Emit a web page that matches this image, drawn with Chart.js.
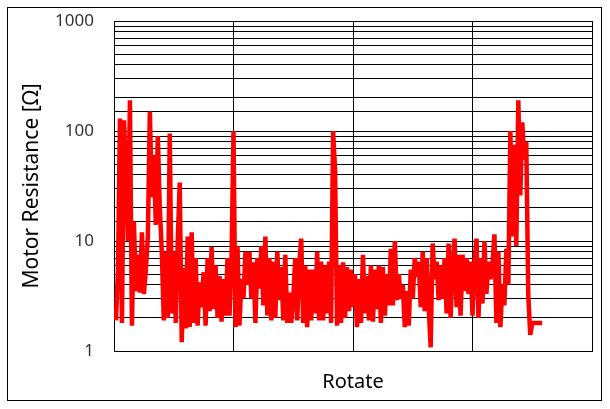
<!DOCTYPE html>
<html><head><meta charset="utf-8">
<script src="https://cdn.jsdelivr.net/npm/chart.js@4.4.1/dist/chart.umd.min.js"></script>
<style>html,body{margin:0;padding:0;background:#fff}#wrap{width:610px;height:409px;position:relative}</style>
</head><body><div id="wrap"><canvas id="c" width="610" height="409"></canvas></div>
<script>
// Motor resistance samples (Ω), one per rotate step starting at step 1
const resistance = [
  1.9, 5.5, 130, 1.8, 125, 45, 10, 190, 1.7, 15,
  3.5, 7.5, 3.4, 12, 3.3, 5.5, 11, 150, 25, 60,
  14, 90, 20, 8, 1.9, 8, 2, 95, 2.2, 8,
  1.8, 10, 34, 1.2, 5.7, 1.6, 11, 1.65, 12, 1.8,
  7, 1.7, 4.2, 2.5, 5.2, 1.7, 7, 2.3, 8.8, 2.4,
  6, 2, 4.8, 1.85, 4.5, 2.1, 7, 2.1, 6.5, 100,
  1.65, 9, 1.7, 4.5, 3, 8, 4, 8, 3, 6.4,
  1.8, 7, 3.7, 9, 2.6, 11, 2.1, 7, 1.9, 6.5,
  2, 8, 2.9, 5.8, 1.9, 7.5, 1.8, 3.4, 1.8, 3,
  7, 1.9, 6, 10.5, 1.8, 6, 1.65, 5.5, 1.9, 5.5,
  2.2, 8, 1.9, 6.5, 1.9, 6, 2.2, 6.5, 1.8, 100,
  44, 1.7, 6, 1.8, 6.4, 2, 5.8, 2.3, 5.5, 2.5,
  5, 1.65, 4.5, 1.8, 7.5, 2.2, 4.8, 1.9, 6, 1.85,
  5.5, 2.4, 6, 1.8, 5.8, 2.1, 5, 2.6, 8.5, 2.6,
  10, 2.9, 5, 3, 4, 1.65, 3.5, 1.7, 5.5, 3,
  7, 4.7, 6.5, 2.5, 8, 2.3, 7, 2.5, 1.08, 9.5,
  4.5, 6.5, 2.9, 6, 3, 7, 2.2, 9.5, 2, 6,
  10.5, 2.5, 7.5, 2.1, 7.5, 3.5, 7, 3.3, 6.5, 2.1,
  6.5, 10.5, 2, 7, 2.7, 10, 3.3, 6.5, 4.5, 6,
  11.5, 1.8, 8, 1.65, 4, 2.6, 8.5, 4, 100, 11,
  75, 9, 190, 26, 120, 55, 80, 3.2, 1.4, 1.8,
  1.8, 1.8, 1.8, 1.8, 1.8
];
const xRange = [0, 240];
const xGridStep = 60;
const yTickLabels = [1, 10, 100, 1000];
const xTitle = 'Rotate';
const yTitle = 'Motor Resistance [Ω]';

const points = resistance.map((v, i) => ({ x: i + 1, y: v }));
const FONT = '"Noto Sans", "Open Sans", sans-serif';

const frame = {
  id: 'frame',
  beforeDraw(chart) {
    const c = chart.ctx;
    c.save(); c.fillStyle = '#fff'; c.fillRect(0, 0, chart.width, chart.height); c.restore();
  },
  afterDraw(chart) {
    const c = chart.ctx;
    c.save(); c.strokeStyle = '#000'; c.lineWidth = 1;
    c.strokeRect(7.5, 7.5, 594, 393);
    c.restore();
  }
};

new Chart(document.getElementById('c'), {
  type: 'line',
  data: {
    datasets: [{
      data: points,
      borderColor: '#ff0000',
      borderWidth: 4.5,
      borderJoinStyle: 'bevel',
      pointRadius: 0,
      tension: 0,
      fill: false
    }]
  },
  options: {
    responsive: false,
    devicePixelRatio: 1,
    animation: false,
    layout: { padding: { left: 0, right: 18, top: 21, bottom: 0 } },
    plugins: { legend: { display: false }, tooltip: { enabled: false } },
    scales: {
      x: {
        type: 'linear',
        min: xRange[0], max: xRange[1],
        ticks: { display: false, stepSize: xGridStep },
        grid: { color: '#000', lineWidth: 1, drawTicks: false },
        border: { color: '#000', width: 1 },
        title: { display: true, text: xTitle, color: '#000',
                 font: { family: FONT, size: 20 }, padding: { top: 0, bottom: 15 } },
        afterFit(s) { s.height = 58; s.paddingLeft = 0; s.paddingRight = 0; }
      },
      y: {
        type: 'logarithmic',
        min: 1, max: 1000,
        ticks: {
          autoSkip: false, padding: 20, color: '#333',
          font: { family: FONT, size: 17 },
          callback: (v) => yTickLabels.includes(v) ? String(v) : ''
        },
        grid: { color: '#000', lineWidth: 1, drawTicks: false },
        border: { color: '#000', width: 1 },
        title: { display: true, text: yTitle, color: '#000',
                 font: { family: FONT, size: 21 }, padding: { top: 19, bottom: 0 } },
        afterFit(s) { s.width = 114; s.paddingTop = 0; s.paddingBottom = 0; }
      }
    }
  },
  plugins: [frame]
});
</script>
</body></html>
